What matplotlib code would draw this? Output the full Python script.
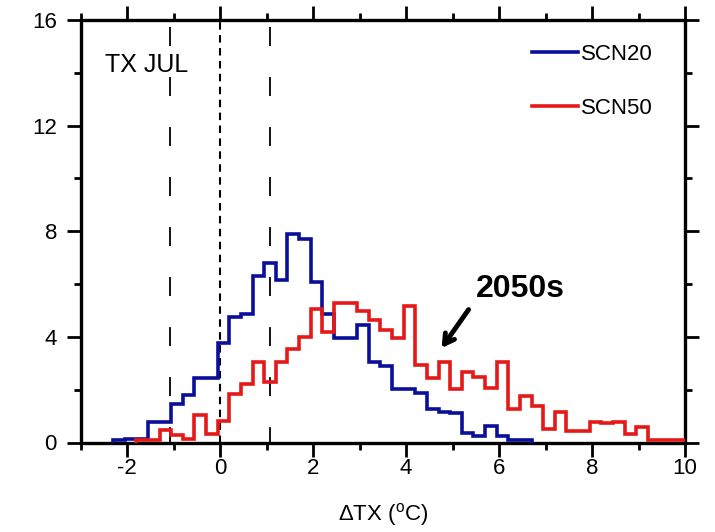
import numpy as np
import matplotlib
matplotlib.use('Agg')
import matplotlib.pyplot as plt

plt.rcParams['font.family'] = ['Liberation Sans', 'DejaVu Sans']
plt.rcParams['mathtext.fontset'] = 'custom'
plt.rcParams['mathtext.rm'] = 'Liberation Sans'
plt.rcParams['axes.unicode_minus'] = False

# histogram data (%), bin width 0.25 degC
bin_width = 0.25
scn20_start = -2.30
scn20 = [0.08, 0.15, 0.15, 0.77, 0.77, 1.47, 1.78, 2.46, 2.46, 3.77,
         4.75, 4.85, 6.29, 6.78, 6.14, 7.89, 7.69, 6.08, 4.85, 3.97,
         3.97, 4.44, 3.05, 2.88, 2.03, 2.03, 1.86, 1.28, 1.15, 1.13,
         0.37, 0.25, 0.64, 0.25, 0.08, 0.08]
scn50_start = -1.80
scn50 = [0.08, 0.10, 0.48, 0.27, 0.14, 1.06, 0.33, 0.83, 1.85, 2.22,
         3.04, 2.29, 3.04, 3.55, 3.99, 5.07, 4.18, 5.27, 5.27, 4.98,
         4.65, 4.27, 3.97, 5.16, 2.95, 2.43, 3.04, 2.03, 2.67, 2.48,
         2.05, 3.04, 1.25, 1.75, 1.37, 0.50, 1.15, 0.42, 0.42, 0.77,
         0.72, 0.77, 0.33, 0.58, 0.08, 0.08, 0.08, 0.08]

# reference lines
vlines_long = [-1.08, 1.08]
vline_zero = 0.0

xticks_major = [-2, 0, 2, 4, 6, 8, 10]
yticks_major = [0, 4, 8, 12, 16]

blue = '#0a0f9a'
red = '#e61919'

edges20 = scn20_start + bin_width * np.arange(len(scn20) + 1)
edges50 = scn50_start + bin_width * np.arange(len(scn50) + 1)

fig = plt.figure(figsize=(7.15, 5.32), dpi=100)
ax = fig.add_axes([80.5 / 715, 1 - 442.5 / 532, 604.5 / 715, 422.5 / 532])

for xv in vlines_long:
    ax.axvline(xv, color='black', lw=1.3, linestyle=(1.7, (10.5, 17.2)), zorder=1)
ax.axvline(vline_zero, color='black', lw=1.5, linestyle=(0, (3.6, 2.6)), zorder=1)

ax.stairs(scn20, edges20, color=blue, lw=2.6, label='SCN20', zorder=3)
ax.stairs(scn50, edges50, color=red, lw=2.6, label='SCN50', zorder=3)

ax.set_xlim(-3, 10)
ax.set_ylim(0, 16)
ax.set_xticks(xticks_major)
ax.set_xticks(np.arange(-3, 11, 2), minor=True)
ax.set_yticks(yticks_major)
ax.set_yticks([2, 6, 10, 14], minor=True)

ax.tick_params(which='both', direction='out', top=True, right=True,
               labelsize=16, width=2.0)
ax.tick_params(which='major', length=10)
ax.tick_params(which='minor', length=5)
ax.tick_params(axis='x', pad=1)
ax.tick_params(axis='y', pad=7)
for s in ax.spines.values():
    s.set_linewidth(2.4)

ax.set_xlabel(r'$\Delta$TX ($^{\mathrm{o}}$C)', fontsize=16, labelpad=16)

ax.text(0.04, 0.893, 'TX JUL', transform=ax.transAxes, fontsize=18, va='center')

leg = ax.legend(loc='upper left', bbox_to_anchor=(0.747, 0.944), frameon=False,
                fontsize=16, handlelength=2.07, handletextpad=0.12,
                labelspacing=1.5, borderpad=0, borderaxespad=0)

ax.annotate('', xy=(4.73, 3.49), xytext=(5.38, 5.12),
            arrowprops=dict(arrowstyle='->,head_length=0.7,head_width=0.4',
                            lw=3.5, color='black'))
ax.text(6.45, 5.8, '2050s', fontsize=23, fontweight='bold', ha='center', va='center')

fig.savefig('out.png', dpi=100)
